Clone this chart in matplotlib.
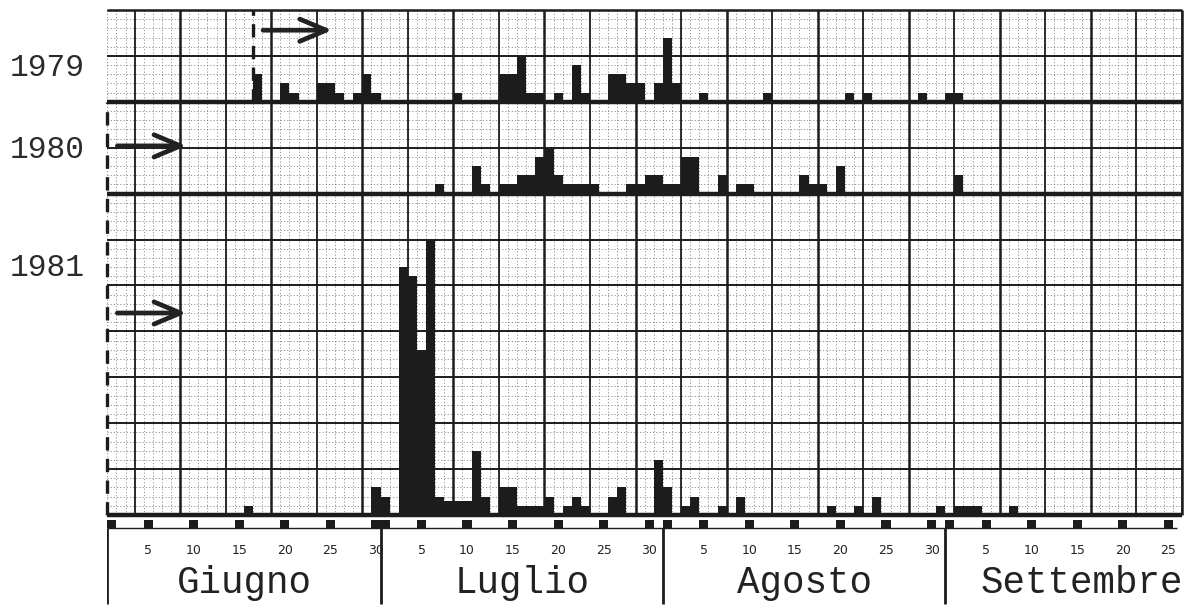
import matplotlib
matplotlib.use('Agg')
import matplotlib.pyplot as plt
import numpy as np

W, H, DPI = 1194, 608, 100

# --- data --------------------------------------------------------------
# day index: 0 = 1 June, 30 = 1 July, 61 = 1 August, 92 = 1 September
months = ['Giugno', 'Luglio', 'Agosto', 'Settembre']
month_start = [0, 30, 61, 92]
month_len = [30, 31, 31, 30]
marker_dom = [1, 5, 10, 15, 20, 25, 30]
tick_dom = [5, 10, 15, 20, 25, 30]

years = ['1979', '1980', '1981']

days_1979 = [16, 19, 20, 23, 24, 25, 27, 28, 29, 38, 43, 44, 45, 46, 47, 49,
             51, 52, 55, 56, 57, 58, 60, 61, 62, 65, 72, 81, 83, 89, 92, 93]
vals_1979 = [3, 2, 1, 2, 2, 1, 1, 3, 1, 1, 3, 3, 5, 1, 1, 1,
             4, 1, 3, 3, 2, 2, 2, 7, 2, 1, 1, 1, 1, 1, 1, 1]

days_1980 = [36, 40, 41, 43, 44, 45, 46, 47, 48, 49, 50, 51, 52, 53, 57, 58,
             59, 60, 61, 62, 63, 64, 67, 69, 70, 76, 77, 78, 80, 93]
vals_1980 = [1, 3, 1, 1, 1, 2, 2, 4, 5, 2, 1, 1, 1, 1, 1, 1,
             2, 2, 1, 1, 4, 4, 2, 1, 1, 2, 1, 1, 3, 2]

days_1981 = [15, 29, 30, 32, 33, 34, 35, 36, 37, 38, 39, 40, 41, 43, 44, 45,
             46, 47, 48, 50, 51, 52, 55, 56, 60, 61, 63, 64, 67, 69, 79, 82,
             84, 91, 93, 94, 95, 99]
vals_1981 = [1, 3, 2, 27, 26, 18, 30, 2, 1.5, 1.5, 1.5, 7, 2, 3, 3, 1,
             1, 1, 2, 1, 2, 1, 2, 3, 6, 3, 1, 2, 1, 2, 1, 1,
             2, 1, 1, 1, 1, 1]

series = {'1979': (days_1979, vals_1979),
          '1980': (days_1980, vals_1980),
          '1981': (days_1981, vals_1981)}

# observation start (arrow / dashed line) per year
obs_start = {'1979': 16, '1980': 0, '1981': 0}

# --- layout -------------------------------------------------------------
X0, X1 = 107.3, 1182.0      # pixel of day 0 and of day NDAYS
Y0, Y1 = 515.0, 10.0        # pixel of unit 0 and of unit NUNITS
NDAYS, NUNITS = 118, 55
base = {'1979': 45, '1980': 35, '1981': 0}
label_y = {'1979': 68, '1980': 150, '1981': 268}
arrow_y = {'1979': 52.8, '1980': 40.2, '1981': 22.0}

INK = '#1c1c1c'
mono = ['Liberation Mono', 'DejaVu Sans Mono']

fig = plt.figure(figsize=(W / DPI, H / DPI), dpi=DPI)
fig.patch.set_facecolor('white')

ax = fig.add_axes([X0 / W, (H - Y0) / H, (X1 - X0) / W, (Y0 - Y1) / H])
ax.set_xlim(0, NDAYS)
ax.set_ylim(0, NUNITS)
ax.axis('off')

# graph paper
ax.vlines(np.arange(0, NDAYS + 1), 0, NUNITS, colors='#7a7a7a', lw=0.55,
          linestyles=(0, (1.6, 2.6)), zorder=1)
ax.hlines(np.arange(0, NUNITS + 1), 0, NDAYS, colors='#7a7a7a', lw=0.55,
          linestyles=(0, (1.6, 2.6)), zorder=1)
ax.vlines(np.arange(3, NDAYS + 1, 10), 0, NUNITS, colors=INK, lw=1.3, zorder=2)
ax.vlines(np.arange(8, NDAYS + 1, 10), 0, NUNITS, colors=INK, lw=1.8, zorder=2)
ax.hlines(np.arange(0, NUNITS + 1, 5), 0, NDAYS, colors=INK, lw=1.4, zorder=2)
ax.hlines(NUNITS, 0, NDAYS, colors=INK, lw=1.8, zorder=2, clip_on=False)
ax.vlines(NDAYS, 0, NUNITS, colors=INK, lw=1.8, zorder=2, clip_on=False)

for y in years:
    d, v = series[y]
    ax.bar(d, v, width=1.0, bottom=base[y], align='edge', color=INK,
           edgecolor='none', zorder=3)
    ax.hlines(base[y], 0, NDAYS, colors=INK, lw=3.2, zorder=4, clip_on=False)
    s = obs_start[y]
    ax.annotate('', xy=(s + 9.0, arrow_y[y]), xytext=(s + 0.8, arrow_y[y]),
                arrowprops=dict(arrowstyle='->,head_length=1.9,head_width=0.8',
                                lw=3.4, color='#222222', mutation_scale=10),
                zorder=5)
    fig.text(10 / W, 1 - label_y[y] / H, y, family=mono, fontsize=22.5,
             color='#2a2a2a', ha='left', va='center')

# dashed start lines
ax.vlines(0, 0, base['1979'], colors=INK, lw=2.4, linestyles=(0, (4, 2.5)),
          zorder=5, clip_on=False)
ax.vlines(obs_start['1979'], base['1979'], NUNITS, colors=INK, lw=2.4,
          linestyles=(0, (4, 2.5)), zorder=5)

# --- date strip below ----------------------------------------------------
axb = fig.add_axes([X0 / W, 0, (X1 - X0) / W, 91 / H])
axb.set_xlim(0, NDAYS)
axb.set_ylim(0, 1)
axb.axis('off')

ROW = 0.88
axb.hlines(ROW, 0, NDAYS - 0.5, colors=INK, lw=1.0)
mdays = []
for s, n in zip(month_start, month_len):
    mdays += [s + dm - 1 for dm in marker_dom if s + dm - 1 < NDAYS - 1]
axb.bar(mdays, 0.085, bottom=ROW, width=1.0, align='edge', color=INK,
        edgecolor='none')
axb.vlines(month_start, 0.04, ROW, colors=INK, lw=2.0)

for s, n, name in zip(month_start, month_len, months):
    for dm in tick_dom:
        if s + dm - 1 < NDAYS - 1:
            axb.text(s + dm - 0.5, 0.63, str(dm), fontsize=9, color='#222222',
                     ha='center', va='center')
    axb.text(s + n / 2, 0.27, name, family=mono, fontsize=27, color='#222222',
             ha='center', va='center')

fig.savefig('out.png', dpi=DPI, facecolor='white')
